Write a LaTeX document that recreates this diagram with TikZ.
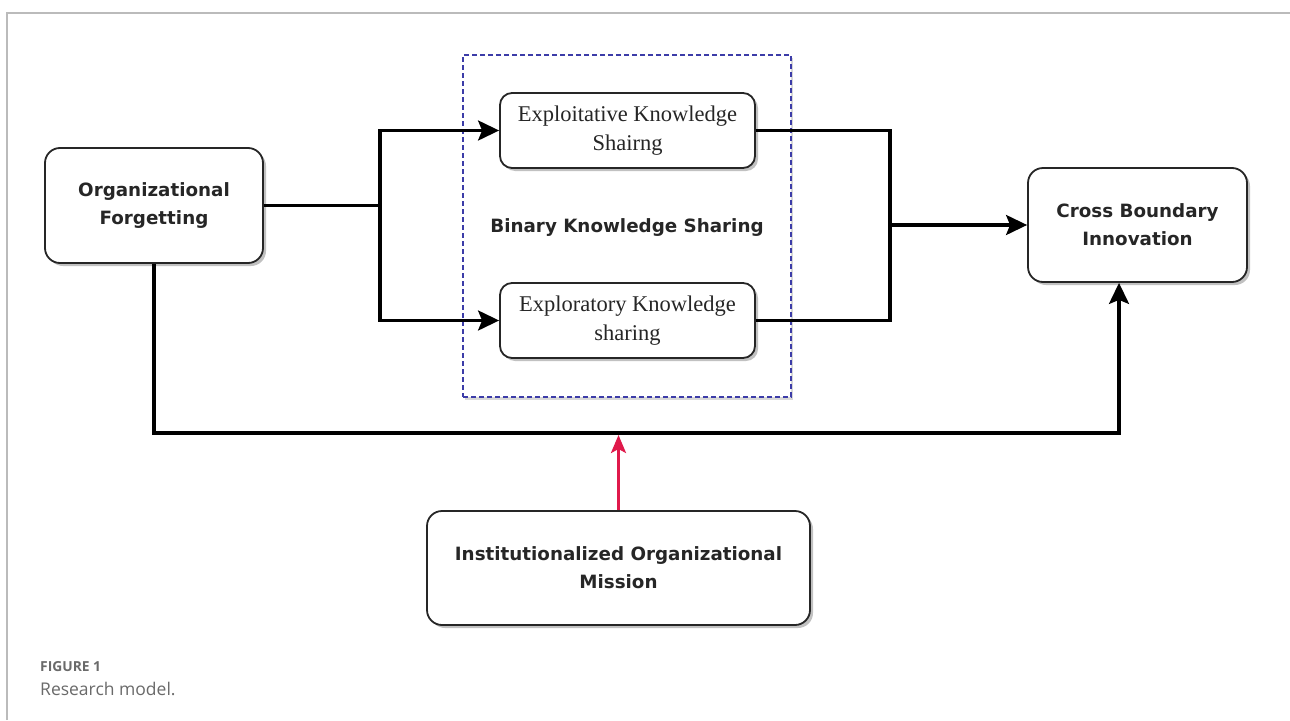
\documentclass[tikz,border=0pt]{standalone}
\usepackage{fontspec}
\setmainfont{Liberation Serif}
\newfontfamily\boxfont{DejaVu Sans}
\newfontfamily\capfont{Open Sans}
\usetikzlibrary{arrows.meta,shadows,positioning}
\definecolor{framegray}{HTML}{BBBBBB}
\definecolor{dashblue}{HTML}{3C3CA8}
\definecolor{redline}{HTML}{E0194B}
\definecolor{capgray}{HTML}{6A6A6A}
\begin{document}
\begin{tikzpicture}[x=1pt,y=-1pt,
  box/.style={draw=black!85, line width=1.8pt, fill=white, rounded corners=15pt, align=center,
    text=black!85, inner sep=0pt,
    drop shadow={shadow xshift=3pt, shadow yshift=-3pt, fill=black!40, opacity=0.6}},
  comic/.style={font=\boxfont\bfseries\fontsize{18.3}{28}\selectfont},
  serifbox/.style={font=\fontsize{22.5}{29}\selectfont, rounded corners=12pt},
  conn/.style={line width=3.2pt, draw=black},
  arr/.style={line width=3.2pt, draw=black, -{Stealth[length=21pt,width=20pt,inset=4pt]}},
  redarr/.style={line width=2.8pt, draw=redline, -{Stealth[length=18pt,width=15pt,inset=4pt]}}
]
\useasboundingbox (0,0) rectangle (1290,720);
\fill[white] (0,0) rectangle (1290,720);
% outer frame
\draw[framegray, line width=1.3pt] (7,720) -- (7,13) -- (1290,13);

% dashed group
\node[draw=dashblue, dash pattern=on 5pt off 3pt, line width=1.3pt, minimum width=328pt, minimum height=342pt,
  drop shadow={shadow xshift=2pt, shadow yshift=-3pt, fill=black!30, opacity=0.5}, fill=white, inner sep=0pt]
  (grp) at (627,226) {};
\node[comic, text=black!85] (bks) at (627,228) {Binary Knowledge Sharing};

% boxes
\node[box, comic, minimum width=218pt, minimum height=115pt] (of) at (154,205.5) {Organizational\\Forgetting};
\node[box, serifbox, minimum width=255pt, minimum height=75pt] (ek) at (627.5,130.5) {Exploitative Knowledge\\Shairng};
\node[box, serifbox, minimum width=255pt, minimum height=75pt] (xk) at (627.5,320.5) {Exploratory Knowledge\\sharing};
\node[box, comic, minimum width=219pt, minimum height=114pt] (cb) at (1137.5,225) {Cross Boundary\\Innovation};
\node[box, comic, minimum width=383pt, minimum height=114pt] (im) at (618.5,568) {Institutionalized Organizational\\Mission};

% junctions
\coordinate (j1) at (380,205.5);
\coordinate (j2) at (890,225);
\coordinate (low) at (154,433);
\coordinate (lowr) at (1119,433);
\coordinate (redtip) at (618.5,435);

% connectors
\draw[conn] (of.east) -- (j1);
\draw[arr] (j1) |- (ek.west);
\draw[arr] (j1) |- (xk.west);
\draw[conn] (ek.east) -| (j2);
\draw[conn] (xk.east) -| (j2);
\draw[arr] (j2) -- (cb.west);
\draw[arr] (of.south) -- (low) -- (lowr) -- (lowr |- cb.south);
\draw[redarr] (im.north) -- (redtip);

% caption
\node[anchor=west, text=capgray, font=\capfont\bfseries\fontsize{13.8}{16}\selectfont, inner sep=0pt] (fig) at (40,667) {FIGURE 1};
\node[anchor=west, text=capgray, font=\capfont\fontsize{17.5}{20}\selectfont, inner sep=0pt] (cap) at (40,689) {Research model.};
\end{tikzpicture}
\end{document}
